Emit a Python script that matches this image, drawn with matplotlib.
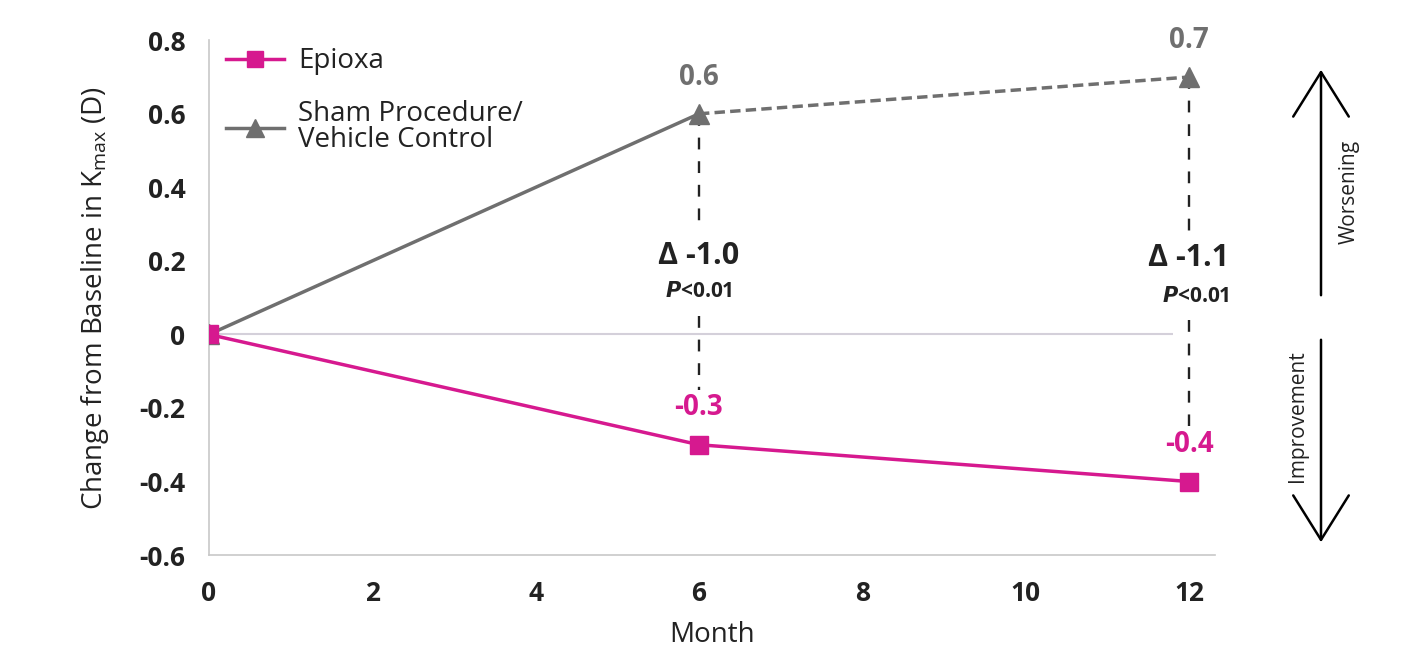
import matplotlib.pyplot as plt
from matplotlib.lines import Line2D
from matplotlib.patches import FancyArrowPatch

# --- data ---
months = [0, 6, 12]
epioxa = [0.0, -0.3, -0.4]
sham = [0.0, 0.6, 0.7]
deltas = ["Δ -1.0", "Δ -1.1"]
p_text = "<0.01"

EPI_COLOR = "#d6198f"
SHAM_COLOR = "#6f6f6f"
TEXT_COLOR = "#222222"

plt.rcParams['font.family'] = ['Open Sans', 'DejaVu Sans']

fig = plt.figure(figsize=(14.08, 6.6), dpi=100)
ax = fig.add_axes([0.1484, 0.159, 0.7146, 0.780])

# zero line
ax.hlines(0, 0, 11.8, color="#d4d0da", linewidth=1.5, zorder=1)

# dashed connectors between groups
dash = dict(color=TEXT_COLOR, linestyle=(0, (5, 5)), linewidth=1.7, zorder=2)
ax.vlines(months[1], sham[1], 0.28, **dash)
ax.vlines(months[1], 0.05, epioxa[1] + 0.15, **dash)
ax.vlines(months[2], sham[2], 0.27, **dash)
ax.vlines(months[2], 0.04, epioxa[2] + 0.15, **dash)

# Sham: solid to month 6, dashed after
ax.plot(months[:2], sham[:2], color=SHAM_COLOR, linewidth=2.5, zorder=3)
ax.plot(months[1:], sham[1:], color=SHAM_COLOR, linewidth=2.5, linestyle=(0, (3, 1.5)), zorder=3)
ax.plot(months, sham, linestyle="none", marker="^", markersize=14, color=SHAM_COLOR, zorder=4)

ax.plot(months, epioxa, color=EPI_COLOR, linewidth=2.5, marker="s", markersize=13, zorder=5)

# value labels
for m, v in zip(months[1:], sham[1:]):
    ax.text(m, v + 0.1, f"{v:.1f}", color=SHAM_COLOR, fontsize=20, fontweight="bold",
            ha="center", va="center")
for m, v in zip(months[1:], epioxa[1:]):
    ax.text(m, v + 0.1, f"{v:.1f}", color=EPI_COLOR, fontsize=20, fontweight="bold",
            ha="center", va="center")

# delta annotations
ax.text(months[1], 0.213, deltas[0], color=TEXT_COLOR, fontsize=22, fontweight="bold", ha="center", va="center")
ax.text(months[1], 0.117, "$\\mathbfit{P}$" + p_text, color=TEXT_COLOR, fontsize=15, fontweight="bold",
        ha="center", va="center")
ax.text(months[2], 0.208, deltas[1], color=TEXT_COLOR, fontsize=22, fontweight="bold", ha="center", va="center")
ax.text(months[2] + 0.08, 0.104, "$\\mathbfit{P}$" + p_text, color=TEXT_COLOR, fontsize=15, fontweight="bold",
        ha="center", va="center")

ax.set_xlim(0, 12.32)
ax.set_ylim(-0.6, 0.8)
ax.set_xticks([0, 2, 4, 6, 8, 10, 12])
ax.set_yticks([-0.6, -0.4, -0.2, 0, 0.2, 0.4, 0.6, 0.8])
ax.set_yticklabels(["-0.6", "-0.4", "-0.2", "0", "0.2", "0.4", "0.6", "0.8"])
for lbl in ax.get_xticklabels() + ax.get_yticklabels():
    lbl.set_fontweight("bold")
    lbl.set_fontsize(19)
    lbl.set_color(TEXT_COLOR)
ax.tick_params(axis="y", length=0, pad=17)
ax.tick_params(axis="x", length=0, pad=18)

for s in ["top", "right"]:
    ax.spines[s].set_visible(False)
for s in ["left", "bottom"]:
    ax.spines[s].set_color("#c8c8c8")
    ax.spines[s].set_linewidth(1.2)

ax.set_xlabel("Month", fontsize=20, color=TEXT_COLOR, labelpad=10)
ax.set_ylabel("Change from Baseline in K$_\\mathregular{max}$ (D)", fontsize=20, color=TEXT_COLOR, labelpad=20)

handles = [
    Line2D([], [], color=EPI_COLOR, marker="s", markersize=12, linewidth=2.5),
    Line2D([], [], color=SHAM_COLOR, marker="^", markersize=13, linewidth=2.5),
]
leg = ax.legend(handles, ["Epioxa", "Sham Procedure/\nVehicle Control"], loc="upper left",
                bbox_to_anchor=(-0.008, 1.035), frameon=False, fontsize=20, handlelength=2.1,
                labelspacing=0.9, handletextpad=0.5)
for t in leg.get_texts():
    t.set_color(TEXT_COLOR)
    t.set_linespacing(0.88)

# worsening / improvement arrows on the right
for y0, y1 in [(298, 67), (337, 545)]:
    fig.patches.append(FancyArrowPatch(
        (1321 / 1408, 1 - y0 / 660), (1321 / 1408, 1 - y1 / 660), transform=fig.transFigure,
        arrowstyle="->,head_length=1.6,head_width=1.0", color="black", linewidth=1.8, mutation_scale=20))
fig.text(1349 / 1408, 1 - 192 / 660, "Worsening", rotation=90, fontsize=15, ha="center", va="center",
         color=TEXT_COLOR)
fig.text(1297 / 1408, 1 - 416 / 660, "Improvement", rotation=90, fontsize=15, ha="center", va="center",
         color=TEXT_COLOR)

fig.savefig("out.png", dpi=100, facecolor="white")
